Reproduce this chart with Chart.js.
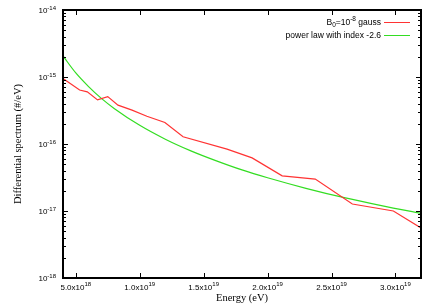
<!DOCTYPE html>
<html>
<head>
<meta charset="utf-8">
<script src="https://cdn.jsdelivr.net/npm/chart.js@4/dist/chart.umd.min.js"></script>
<style>
  html, body { margin: 0; padding: 0; background: #fff; }
  #wrap { width: 435px; height: 305px; }
</style>
</head>
<body>
<div id="wrap"><canvas id="c" width="435" height="305"></canvas></div>
<script>
// spectrum for B0 = 1e-8 gauss
const fieldEnergy   = [4.0e18, 5.3e18, 5.9e18, 6.7e18, 7.5e18, 8.3e18, 9.4e18, 1.056e19, 1.197e19,
                       1.339e19, 1.683e19, 1.879e19, 2.114e19, 2.373e19, 2.663e19, 2.984e19, 3.2e19];
const fieldSpectrum = [9.5e-16, 6.4e-16, 6.0e-16, 4.55e-16, 5.1e-16, 3.8e-16, 3.2e-16, 2.6e-16, 2.1e-16,
                       1.28e-16, 8.4e-17, 6.2e-17, 3.35e-17, 3.0e-17, 1.27e-17, 1.0e-17, 5.6e-18];

// reference power law curve, index -2.6
const powerEnergy   = [4.0e18, 5.0e18, 6.0e18, 7.0e18, 8.0e18, 1.0e19, 1.2e19, 1.4e19, 1.6e19,
                       1.8e19, 2.0e19, 2.3e19, 2.6e19, 2.9e19, 3.2e19];
const powerSpectrum = [2.06e-15, 1.15e-15, 7.2e-16, 4.8e-16, 3.4e-16, 1.9e-16, 1.18e-16, 7.9e-17, 5.6e-17,
                       4.1e-17, 3.13e-17, 2.18e-17, 1.58e-17, 1.19e-17, 9.2e-18];

const xTicks     = [5e18, 1e19, 1.5e19, 2e19, 2.5e19, 3e19];
const xTickMant  = ['5.0', '1.0', '1.5', '2.0', '2.5', '3.0'];
const xTickExp   = ['18', '19', '19', '19', '19', '19'];
const yTicks     = [1e-18, 1e-17, 1e-16, 1e-15, 1e-14];
const yTickExp   = ['-18', '-17', '-16', '-15', '-14'];

const seriesLabels = ['B0=10-8 gauss', 'power law with index -2.6'];
const seriesColors = ['#ff3333', '#33dd22'];

const SANS  = '"Liberation Sans", Arial, sans-serif';
const SERIF = '"Liberation Serif", "Times New Roman", serif';

const toPoints = (xs, ys) => xs.map((x, i) => ({ x, y: ys[i] }));

// draws frame, inward ticks, tick labels with superscripts, axis titles, legend
const gnuplotLook = {
  id: 'gnuplotLook',
  afterDraw(chart) {
    const ctx = chart.ctx;
    const { left, right, top, bottom } = chart.chartArea;
    const xs = chart.scales.x, ys = chart.scales.y;
    ctx.save();

    // ticks
    ctx.strokeStyle = '#000';
    ctx.lineWidth = 1;
    ctx.beginPath();
    xTicks.forEach(v => {
      const px = Math.round(xs.getPixelForValue(v)) + 0.5;
      ctx.moveTo(px, bottom); ctx.lineTo(px, bottom - 5);
      ctx.moveTo(px, top);    ctx.lineTo(px, top + 5);
    });
    yTicks.forEach((v, i) => {
      const py = Math.round(ys.getPixelForValue(v)) + 0.5;
      ctx.moveTo(left, py);  ctx.lineTo(left + 5, py);
      ctx.moveTo(right, py); ctx.lineTo(right - 5, py);
      if (i < yTicks.length - 1) {
        for (let m = 2; m <= 9; m++) {
          const pm = Math.round(ys.getPixelForValue(v * m)) + 0.5;
          ctx.moveTo(left, pm);  ctx.lineTo(left + 3, pm);
          ctx.moveTo(right, pm); ctx.lineTo(right - 3, pm);
        }
      }
    });
    ctx.stroke();

    // frame
    ctx.lineWidth = 2;
    ctx.strokeRect(left, top, right - left, bottom - top);

    // tick labels
    ctx.fillStyle = '#000';
    ctx.textBaseline = 'alphabetic';
    const big = '8px ' + SANS, small = '6px ' + SANS;
    xTicks.forEach((v, i) => {
      const px = xs.getPixelForValue(v);
      ctx.font = big;
      const base = xTickMant[i] + 'x10';
      const w1 = ctx.measureText(base).width;
      ctx.font = small;
      const w2 = ctx.measureText(xTickExp[i]).width;
      const x0 = px - (w1 + w2) / 2;
      ctx.font = big;
      ctx.textAlign = 'left';
      ctx.fillText(base, x0, bottom + 12);
      ctx.font = small;
      ctx.fillText(xTickExp[i], x0 + w1, bottom + 8);
    });
    yTicks.forEach((v, i) => {
      const py = ys.getPixelForValue(v);
      ctx.font = small;
      const w2 = ctx.measureText(yTickExp[i]).width;
      ctx.textAlign = 'right';
      ctx.fillText(yTickExp[i], left - 7, py);
      ctx.font = big;
      ctx.fillText('10', left - 7 - w2, py + 3);
    });

    // axis titles
    ctx.font = '10.5px ' + SERIF;
    ctx.textAlign = 'center';
    ctx.fillText('Energy (eV)', (left + right) / 2, 301);
    ctx.save();
    ctx.translate(21, (top + bottom) / 2);
    ctx.rotate(-Math.PI / 2);
    ctx.fillText('Differential spectrum (#/eV)', 0, 0);
    ctx.restore();

    // legend (text right-aligned, sample line to the right)
    const lbig = '8.5px ' + SANS, lsmall = '6.5px ' + SANS;
    const textRight = 381, lineL = 384, lineR = 410;
    const rows = [22, 35];
    // row 1: B_0=10^-8 gauss
    ctx.textAlign = 'left';
    const parts = [
      { t: 'B', f: lbig, dy: 0 }, { t: '0', f: lsmall, dy: 2 },
      { t: '=10', f: lbig, dy: 0 }, { t: '-8', f: lsmall, dy: -4 },
      { t: ' gauss', f: lbig, dy: 0 }
    ];
    let total = 0;
    parts.forEach(p => { ctx.font = p.f; p.w = ctx.measureText(p.t).width; total += p.w; });
    let cx = textRight - total;
    parts.forEach(p => { ctx.font = p.f; ctx.fillText(p.t, cx, rows[0] + 3 + p.dy); cx += p.w; });
    ctx.font = lbig;
    ctx.textAlign = 'right';
    ctx.fillText(chart.data.datasets[1].label, textRight, rows[1] + 3);
    chart.data.datasets.forEach((ds, i) => {
      ctx.strokeStyle = ds.borderColor;
      ctx.lineWidth = 1;
      ctx.beginPath();
      ctx.moveTo(lineL, rows[i] + 0.5);
      ctx.lineTo(lineR, rows[i] + 0.5);
      ctx.stroke();
    });
    ctx.restore();
  }
};

new Chart(document.getElementById('c'), {
  type: 'line',
  data: {
    datasets: [
      {
        label: seriesLabels[0],
        data: toPoints(fieldEnergy, fieldSpectrum),
        borderColor: seriesColors[0],
        borderWidth: 1.2,
        pointRadius: 0,
        tension: 0
      },
      {
        label: seriesLabels[1],
        data: toPoints(powerEnergy, powerSpectrum),
        borderColor: seriesColors[1],
        borderWidth: 1.2,
        pointRadius: 0,
        cubicInterpolationMode: 'monotone'
      }
    ]
  },
  options: {
    responsive: false,
    animation: false,
    devicePixelRatio: 1,
    layout: { padding: { left: 0, right: 14, top: 10, bottom: 0 } },
    plugins: { legend: { display: false }, tooltip: { enabled: false } },
    scales: {
      x: {
        type: 'linear',
        min: 4e18,
        max: 3.2e19,
        grid: { display: false },
        border: { display: false },
        ticks: { display: false },
        afterBuildTicks: s => { s.ticks = xTicks.map(v => ({ value: v })); },
        afterFit: s => { s.height = 27; }
      },
      y: {
        type: 'logarithmic',
        min: 1e-18,
        max: 1e-14,
        grid: { display: false },
        border: { display: false },
        ticks: { display: false },
        afterBuildTicks: s => { s.ticks = yTicks.map(v => ({ value: v })); },
        afterFit: s => { s.width = 63; }
      }
    }
  },
  plugins: [gnuplotLook]
});
</script>
</body>
</html>
